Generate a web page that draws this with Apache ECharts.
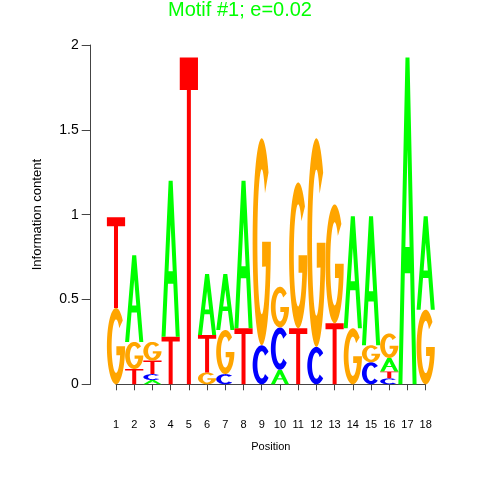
<!DOCTYPE html>
<html>
<head>
<meta charset="utf-8">
<script src="https://cdn.jsdelivr.net/npm/echarts@6/dist/echarts.min.js"></script>
<style>
html,body{margin:0;padding:0;background:#fff;}
#chart{width:480px;height:480px;}
</style>
</head>
<body>
<div id="chart"></div>
<script>
// ---- data ----
const titleText = 'Motif #1; e=0.02';
const positions = [1,2,3,4,5,6,7,8,9,10,11,12,13,14,15,16,17,18];
// letters stacked bottom -> top at each position
const stackLetters = [
  ['G','T'],
  ['T','G','A'],
  ['A','C','T','G'],
  ['T','A'],
  ['T'],
  ['G','T','A'],
  ['C','G','A'],
  ['T','A'],
  ['C','G'],
  ['A','C','G'],
  ['T','G'],
  ['C','G'],
  ['T','G'],
  ['G','A'],
  ['C','G','A'],
  ['C','T','A','G'],
  ['A'],
  ['G','A']
];
// information content of each letter (bits), same order
const stackHeights = [
  [0.45, 0.535],
  [0.09, 0.16, 0.51],
  [0.025, 0.035, 0.08, 0.11],
  [0.28, 0.92],
  [1.927],
  [0.07, 0.22, 0.36],
  [0.06, 0.26, 0.33],
  [0.33, 0.87],
  [0.23, 1.22],
  [0.085, 0.25, 0.24],
  [0.33, 0.86],
  [0.22, 1.23],
  [0.36, 0.70],
  [0.33, 0.66],
  [0.13, 0.10, 0.76],
  [0.035, 0.04, 0.08, 0.145],
  [1.927],
  [0.44, 0.55]
];
const yTicks = [0, 0.5, 1, 1.5, 2];
const letterColors = {A:'#00FF00', C:'#0000FF', G:'#FFA500', T:'#FF0000'};

// ---- glyph outlines in a 100x100 box ----
function arcPts(cx, cy, rx, ry, a0, a1, n, first) {
  let s = '';
  for (let i = 0; i <= n; i++) {
    const a = (a0 + (a1 - a0) * i / n) * Math.PI / 180;
    const x = cx + rx * Math.cos(a), y = cy - ry * Math.sin(a);
    s += (i === 0 && first ? 'M' : 'L') + x.toFixed(2) + ' ' + y.toFixed(2) + ' ';
  }
  return s;
}
const BOUNDS = 'M0 0 L100 100 Z ';
const RXI = 24, RYI = 35;
const GLYPHS = {
  T: 'M0 0 L100 0 L100 10 L61 10 L61 100 L39 100 L39 10 L0 10 Z',
  A: 'M0 100 L39 0 L61 0 L100 100 L78 100 L64.7 66 L35.3 66 L22 100 Z M38.4 58 L61.6 58 L50 28.2 Z',
  C: BOUNDS + arcPts(50, 50, 50, 50, 42, 318, 60, true) + arcPts(50, 50, RXI, RYI, 318, 42, 60, false) + 'Z',
  G: BOUNDS + arcPts(50, 50, 50, 50, 42, 360, 64, true) + 'L52 50 L52 62 ' +
     arcPts(50, 50, RXI, RYI, 340, 42, 60, false) + 'Z'
};

// ---- build stacked letter records ----
const letterData = [];
positions.forEach((p, i) => {
  let y0 = 0;
  stackLetters[i].forEach((L, j) => {
    const h = stackHeights[i][j];
    letterData.push({ value: [p, y0, y0 + h], letter: L });
    y0 += h;
  });
});

const FONT = '"Liberation Sans", Arial, Helvetica, sans-serif';
const chart = echarts.init(document.getElementById('chart'), null, { renderer: 'canvas' });
chart.setOption({
  animation: false,
  backgroundColor: '#ffffff',
  title: {
    text: titleText, left: 'center', top: -5,
    textStyle: { color: '#00FF00', fontSize: 20, fontWeight: 'normal', fontFamily: FONT }
  },
  grid: { left: 116, right: 54.3, top: 45, bottom: 95.7 },
  xAxis: {
    type: 'value', min: 1, max: 18, interval: 1, offset: 19,
    axisLine: { show: true, lineStyle: { color: '#444', width: 1 } },
    axisTick: { show: true, length: 6, lineStyle: { color: '#444' } },
    axisLabel: { fontSize: 11, color: '#000', margin: 16, fontFamily: FONT },
    splitLine: { show: false },
    name: 'Position', nameLocation: 'middle', nameGap: 38,
    nameTextStyle: { fontSize: 11, color: '#000', fontFamily: FONT }
  },
  yAxis: {
    type: 'value', min: 0, max: 2, interval: 0.5, offset: 25.3,
    axisLine: { show: true, lineStyle: { color: '#444', width: 1 } },
    axisTick: { show: true, length: 9, lineStyle: { color: '#444' } },
    axisLabel: {
      fontSize: 14, color: '#000', margin: 12, fontFamily: FONT,
      formatter: v => (yTicks.indexOf(v) >= 0 ? String(v) : '')
    },
    splitLine: { show: false },
    name: 'Information content', nameLocation: 'middle', nameGap: 47,
    nameTextStyle: { fontSize: 13, color: '#000', fontFamily: FONT }
  },
  series: [{
    type: 'custom',
    clip: false,
    data: letterData,
    renderItem: function (params, api) {
      const d = letterData[params.dataIndex];
      const x = api.value(0), y0 = api.value(1), y1 = api.value(2);
      const pb = api.coord([x, y0]);
      const pt = api.coord([x, y1]);
      const w = api.size([1, 0])[0] * 1.0;
      return {
        type: 'path',
        shape: {
          pathData: GLYPHS[d.letter],
          x: pb[0] - w / 2, y: pt[1], width: w, height: pb[1] - pt[1],
          layout: 'cover'
        },
        style: { fill: letterColors[d.letter], stroke: null }
      };
    }
  }]
});
</script>
</body>
</html>
